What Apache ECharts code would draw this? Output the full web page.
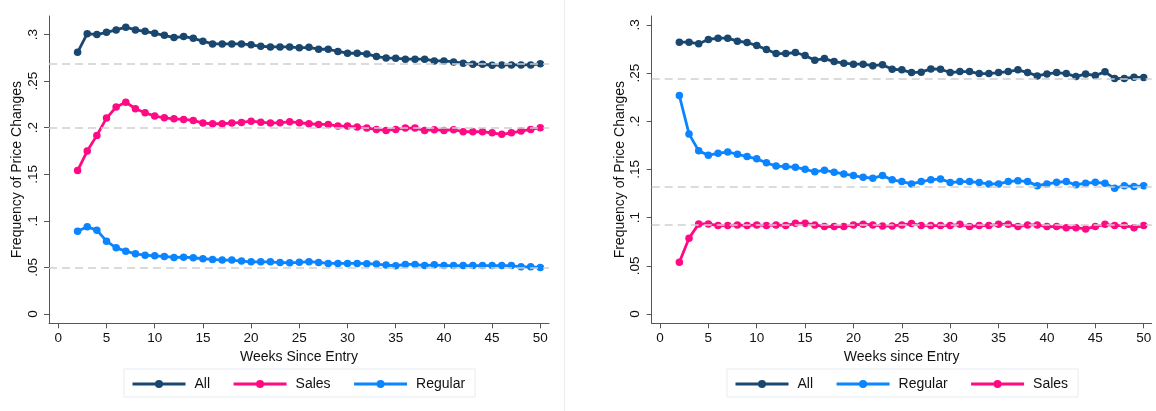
<!DOCTYPE html>
<html>
<head>
<meta charset="utf-8">
<script src="https://cdn.jsdelivr.net/npm/echarts@6/dist/echarts.min.js"></script>
<style>
  html, body { margin: 0; padding: 0; background: #fff; }
  #chart { width: 1156px; height: 411px; }
</style>
</head>
<body>
<div id="chart"></div>
<script>
// Weeks since entry (x values shared by both panels)
const weeks = [2, 3, 4, 5, 6, 7, 8, 9, 10, 11, 12, 13, 14, 15, 16, 17, 18, 19, 20, 21, 22, 23, 24, 25, 26,
  27, 28, 29, 30, 31, 32, 33, 34, 35, 36, 37, 38, 39, 40, 41, 42, 43, 44, 45, 46, 47, 48, 49, 50];

// Left panel
const leftAll = [0.281, 0.301, 0.300, 0.3025, 0.305, 0.308, 0.305, 0.3036, 0.3014, 0.2993, 0.2968, 0.298,
  0.296, 0.293, 0.290, 0.290, 0.290, 0.290, 0.289, 0.2875, 0.2868, 0.2868, 0.2868, 0.2858, 0.2864, 0.2843,
  0.2843, 0.282, 0.280, 0.280, 0.2793, 0.2764, 0.275, 0.2747, 0.2736, 0.2736, 0.2736, 0.2718, 0.2718,
  0.2707, 0.2693, 0.2682, 0.2682, 0.2671, 0.2675, 0.2675, 0.2675, 0.2675, 0.2686];
const leftSales = [0.154, 0.175, 0.1918, 0.2104, 0.2222, 0.2275, 0.2204, 0.2161, 0.2125, 0.2107, 0.2096,
  0.2089, 0.2079, 0.205, 0.2043, 0.2043, 0.205, 0.2057, 0.2071, 0.206, 0.205, 0.2054, 0.2064, 0.2054,
  0.2043, 0.2036, 0.2036, 0.2018, 0.2018, 0.2007, 0.1996, 0.1982, 0.1971, 0.1982, 0.1996, 0.1996, 0.1971,
  0.1979, 0.1971, 0.1979, 0.1957, 0.1957, 0.1957, 0.1946, 0.1929, 0.1946, 0.1964, 0.1982, 0.2];
const leftRegular = [0.0889, 0.0936, 0.090, 0.0782, 0.071, 0.0675, 0.0646, 0.0632, 0.0625, 0.0618, 0.0607,
  0.061, 0.0604, 0.0593, 0.0586, 0.0579, 0.0579, 0.0568, 0.056, 0.056, 0.056, 0.0552, 0.055, 0.0555,
  0.0562, 0.0554, 0.0543, 0.0543, 0.0543, 0.0543, 0.054, 0.0536, 0.0525, 0.0518, 0.0532, 0.0532, 0.052,
  0.0528, 0.052, 0.052, 0.052, 0.052, 0.052, 0.052, 0.052, 0.052, 0.0507, 0.0507, 0.050];
const leftRefs = [0.2686, 0.2, 0.05];

// Right panel
const rightAll = [0.2821, 0.2821, 0.2804, 0.2849, 0.2863, 0.2863, 0.2832, 0.2818, 0.2786, 0.2745, 0.2703,
  0.2703, 0.2714, 0.2683, 0.2634, 0.2651, 0.262, 0.2603, 0.2593, 0.2593, 0.2577, 0.2588, 0.254, 0.2534,
  0.2506, 0.251, 0.2544, 0.254, 0.2506, 0.2516, 0.2516, 0.2495, 0.2495, 0.2506, 0.2516, 0.2534, 0.2506,
  0.2471, 0.2492, 0.2506, 0.2495, 0.2464, 0.2492, 0.2475, 0.2513, 0.2444, 0.2444, 0.2458, 0.2454];
const rightRegular = [0.2267, 0.1869, 0.1693, 0.1648, 0.1668, 0.1682, 0.1658, 0.1634, 0.161, 0.157, 0.1535,
  0.153, 0.1523, 0.1502, 0.1475, 0.1492, 0.1471, 0.1454, 0.1436, 0.1419, 0.1409, 0.1436, 0.1392, 0.1374,
  0.135, 0.1374, 0.1392, 0.1402, 0.1364, 0.1374, 0.1374, 0.1364, 0.135, 0.135, 0.1374, 0.1384, 0.1374,
  0.1332, 0.135, 0.1367, 0.1374, 0.134, 0.1357, 0.1367, 0.1357, 0.1305, 0.1332, 0.1322, 0.1332];
const rightSales = [0.0537, 0.0786, 0.0935, 0.0935, 0.0917, 0.0917, 0.0924, 0.0917, 0.0924, 0.0917, 0.0924,
  0.0917, 0.0941, 0.0941, 0.0924, 0.0907, 0.0907, 0.0907, 0.0924, 0.0931, 0.0924, 0.0912, 0.0914, 0.0924,
  0.0938, 0.0917, 0.0917, 0.0917, 0.0917, 0.0931, 0.0907, 0.0917, 0.0917, 0.0931, 0.0931, 0.0907, 0.0924,
  0.0924, 0.0907, 0.0907, 0.0896, 0.0896, 0.0883, 0.0907, 0.0931, 0.0917, 0.0917, 0.0896, 0.0917];
const rightRefs = [0.2444, 0.1322, 0.0931];

// Axis ticks
const xTicks = [0, 5, 10, 15, 20, 25, 30, 35, 40, 45, 50];
const yTicks = [0, 0.05, 0.1, 0.15, 0.2, 0.25, 0.3];

const COLORS = { All: '#1a476f', Sales: '#ff0a84', Regular: '#0a84ff' };
const FONT = '"Liberation Sans", Arial, Helvetica, sans-serif';
const AXIS_COLOR = '#555';
const TEXT_COLOR = '#111';

function pairs(values) {
  return weeks.map((w, i) => [w, values[i]]);
}

function yLabel(v) {
  if (v === 0) return '0';
  return String(+v.toFixed(2)).replace(/^0/, '');
}

function xAxisFor(gridIndex, min, max, title) {
  return {
    gridIndex, type: 'value', min, max,
    axisLine: { show: true, onZero: false, lineStyle: { color: AXIS_COLOR, width: 1 } },
    axisTick: { show: true, customValues: xTicks, length: 5, lineStyle: { color: AXIS_COLOR } },
    axisLabel: { customValues: xTicks, fontSize: 13.5, color: TEXT_COLOR, fontFamily: FONT, margin: 8 },
    splitLine: { show: false },
    name: title, nameLocation: 'middle', nameGap: 25,
    nameTextStyle: { fontSize: 14, color: TEXT_COLOR, fontFamily: FONT }
  };
}

function yAxisFor(gridIndex, min, max) {
  return {
    gridIndex, type: 'value', min, max,
    axisLine: { show: true, onZero: false, lineStyle: { color: AXIS_COLOR, width: 1 } },
    axisTick: { show: true, customValues: yTicks, length: 5, lineStyle: { color: AXIS_COLOR } },
    axisLabel: { customValues: yTicks, fontSize: 13.5, color: TEXT_COLOR, fontFamily: FONT, margin: 9,
      rotate: 90, formatter: yLabel },
    splitLine: { show: false },
    name: 'Frequency of Price Changes', nameLocation: 'middle', nameGap: 25, nameRotate: 90,
    nameTextStyle: { fontSize: 14, color: TEXT_COLOR, fontFamily: FONT }
  };
}

function lineSeries(name, values, idx) {
  return {
    name, type: 'line', xAxisIndex: idx, yAxisIndex: idx,
    data: pairs(values),
    symbol: 'circle', symbolSize: 7.5, showSymbol: true,
    lineStyle: { color: COLORS[name], width: 2.8 },
    itemStyle: { color: COLORS[name] },
    z: 3
  };
}

// Dashed horizontal reference levels
function refSeries(values, idx) {
  return {
    name: 'ref' + idx, type: 'line', xAxisIndex: idx, yAxisIndex: idx, data: [],
    silent: true, z: 1,
    markLine: {
      silent: true, symbol: 'none', precision: 4, label: { show: false },
      lineStyle: { color: '#cfcfcf', type: [8, 5], width: 1.6 },
      data: values.map(v => ({ yAxis: v }))
    }
  };
}

function legendFor(names, left, top) {
  return {
    data: names, left, top, orient: 'horizontal',
    itemWidth: 53, itemHeight: 10, itemGap: 22,
    padding: [8, 10, 6, 7],
    borderColor: '#e6edf1', borderWidth: 1, backgroundColor: '#fff',
    lineStyle: { width: 3 },
    textStyle: { fontSize: 14, color: TEXT_COLOR, fontFamily: FONT, padding: [0, 0, 0, 4] },
    selectedMode: false
  };
}

const chart = echarts.init(document.getElementById('chart'), null, { renderer: 'canvas' });
chart.setOption({
  animation: false,
  backgroundColor: '#fff',
  grid: [
    { left: 49, top: 16, width: 500, height: 307.3 },
    { left: 651.7, top: 16, width: 500, height: 307.3 }
  ],
  xAxis: [
    xAxisFor(0, -0.965, 50.9, 'Weeks Since Entry'),
    xAxisFor(1, -0.858, 50.83, 'Weeks since Entry')
  ],
  yAxis: [
    yAxisFor(0, -0.01, 0.32),
    yAxisFor(1, -0.0097, 0.3093)
  ],
  legend: [
    legendFor(['All', 'Sales', 'Regular'], 124, 369),
    legendFor(['All', 'Regular', 'Sales'], 727, 369)
  ],
  graphic: [
    { type: 'line', shape: { x1: 564.5, y1: 0, x2: 564.5, y2: 411 }, style: { stroke: '#ececec', lineWidth: 1 }, silent: true }
  ],
  series: [
    refSeries(leftRefs, 0),
    lineSeries('All', leftAll, 0),
    lineSeries('Sales', leftSales, 0),
    lineSeries('Regular', leftRegular, 0),
    refSeries(rightRefs, 1),
    lineSeries('All', rightAll, 1),
    lineSeries('Regular', rightRegular, 1),
    lineSeries('Sales', rightSales, 1)
  ]
});
</script>
</body>
</html>
